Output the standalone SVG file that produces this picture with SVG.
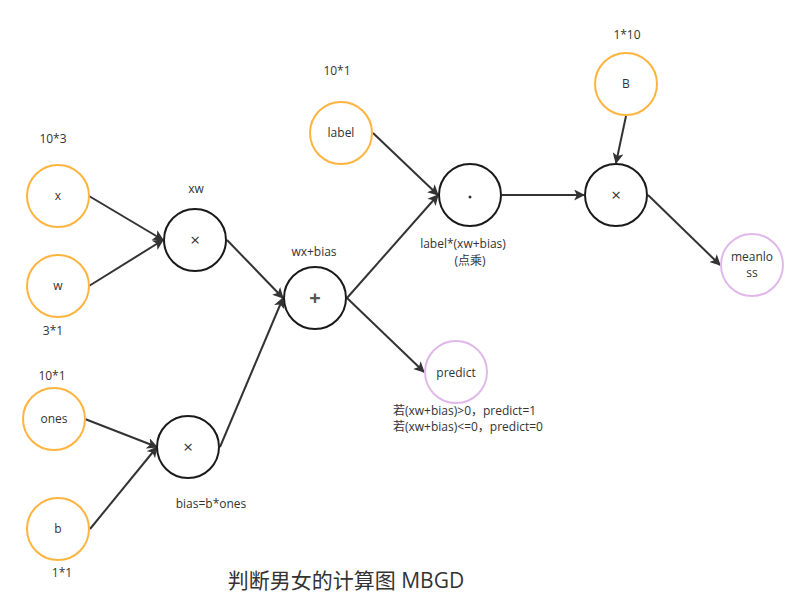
<svg xmlns="http://www.w3.org/2000/svg" width="808" height="612" viewBox="0 0 808 612">
<style>
  text { font-family: "Open Sans", "Noto Sans CJK SC", sans-serif; fill: #333; }
  .lbl { font-size: 12px; text-anchor: middle; }
  .cond { font-size: 12px; }
  .in { fill: #fff; stroke: #ffb43f; stroke-width: 2; }
  .op { fill: #fff; stroke: #1a1a1a; stroke-width: 2; }
  .out { fill: #fff; stroke: #e0b8ea; stroke-width: 2; }
  .sym { font-size: 17px; text-anchor: middle; }
  .edge { stroke: #333; stroke-width: 2; fill: none; marker-end: url(#arr); }
</style>
<defs>
  <marker id="arr" viewBox="0 0 10 10" refX="9" refY="5" markerWidth="5.5" markerHeight="5.5" orient="auto" markerUnits="strokeWidth">
    <path d="M0,0 L10,5 L0,10 L2.5,5 Z" fill="#333"/>
  </marker>
</defs>
<rect width="808" height="612" fill="#fff"/>

<g id="connectors">
  <line class="edge" x1="89" y1="196" x2="163" y2="240"/>
  <line class="edge" x1="89" y1="286" x2="163" y2="240"/>
  <line class="edge" x1="227" y1="240" x2="283" y2="298"/>
  <line class="edge" x1="85" y1="419" x2="157" y2="447"/>
  <line class="edge" x1="90" y1="529" x2="157" y2="447"/>
  <line class="edge" x1="220" y1="447" x2="283" y2="298"/>
  <line class="edge" x1="373" y1="133" x2="438" y2="195"/>
  <line class="edge" x1="347" y1="298" x2="438" y2="195"/>
  <line class="edge" x1="347" y1="298" x2="424" y2="372"/>
  <line class="edge" x1="502" y1="195" x2="584" y2="195"/>
  <line class="edge" x1="626" y1="116" x2="616" y2="163"/>
  <line class="edge" x1="648" y1="195" x2="720" y2="265"/>
</g>

<g id="node-x">
  <circle class="in" cx="58" cy="196" r="31"/>
  <text class="lbl" x="58" y="200">x</text>
  <text class="lbl" x="53" y="143">10*3</text>
</g>
<g id="node-w">
  <circle class="in" cx="58" cy="286" r="31"/>
  <text class="lbl" x="58" y="290">w</text>
  <text class="lbl" x="53" y="335">3*1</text>
</g>
<g id="node-xw">
  <circle class="op" cx="195" cy="240" r="31"/>
  <text class="sym" x="195" y="246">×</text>
  <text class="lbl" x="196" y="193">xw</text>
</g>
<g id="node-ones">
  <circle class="in" cx="54" cy="419" r="31"/>
  <text class="lbl" x="54" y="423">ones</text>
  <text class="lbl" x="52" y="380">10*1</text>
</g>
<g id="node-b">
  <circle class="in" cx="58" cy="529" r="31"/>
  <text class="lbl" x="58" y="533">b</text>
  <text class="lbl" x="62" y="577">1*1</text>
</g>
<g id="node-bias">
  <circle class="op" cx="188" cy="447" r="31"/>
  <text class="sym" x="188" y="453">×</text>
  <text class="lbl" x="211" y="508">bias=b*ones</text>
</g>
<g id="node-plus">
  <circle class="op" cx="315" cy="298" r="31"/>
  <text x="315" y="305" style="font-size:20px;font-weight:bold;text-anchor:middle;fill:#555">+</text>
  <text class="lbl" x="314" y="256">wx+bias</text>
</g>
<g id="node-label">
  <circle class="in" cx="341" cy="133" r="31"/>
  <text class="lbl" x="341" y="137">label</text>
  <text class="lbl" x="337" y="75">10*1</text>
</g>
<g id="node-dot">
  <circle class="op" cx="470" cy="195" r="31"/>
  <circle cx="470" cy="197" r="1.5" fill="#333"/>
  <text class="lbl" x="463" y="248">label*(xw+bias)</text>
  <text class="lbl" x="470" y="265">(点乘)</text>
</g>
<g id="node-predict">
  <circle class="out" cx="456" cy="372" r="31"/>
  <text class="lbl" x="456" y="377">predict</text>
  <text class="cond" x="393" y="415">若(xw+bias)&gt;0，predict=1</text>
  <text class="cond" x="393" y="431">若(xw+bias)&lt;=0，predict=0</text>
</g>
<g id="node-B">
  <circle class="in" cx="626" cy="84" r="31"/>
  <text class="lbl" x="626" y="88">B</text>
  <text class="lbl" x="627" y="39">1*10</text>
</g>
<g id="node-mul">
  <circle class="op" cx="616" cy="195" r="31"/>
  <text class="sym" x="616" y="201">×</text>
</g>
<g id="node-meanloss">
  <circle class="out" cx="752" cy="265" r="31"/>
  <text class="lbl" x="752" y="261">meanlo</text>
  <text class="lbl" x="752" y="277">ss</text>
</g>

<text x="346" y="588" style="font-size:21px;text-anchor:middle">判断男女的计算图 MBGD</text>
</svg>
